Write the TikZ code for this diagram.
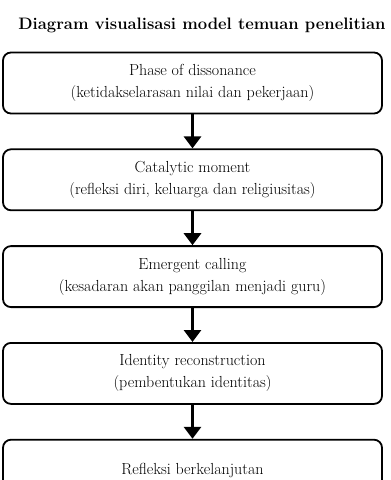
\documentclass[tikz,border=0pt]{standalone}
\usepackage{fontspec}
\usetikzlibrary{positioning,arrows.meta}

\tikzset{
  stage/.style={draw, line width=1.8pt, rounded corners=8pt, minimum width=379pt,
    minimum height=61pt, align=center, inner sep=0pt,
    font=\fontsize{16}{22}\selectfont},
  flow/.style={line width=3.2pt, -{Triangle[width=17pt,length=12pt]}}
}

\begin{document}
\begin{tikzpicture}[x=1pt,y=1pt, node distance=34pt]
        \useasboundingbox (0,0) rectangle (391,-480);
        \clip (0,0) rectangle (391,-480);
        \node[font=\fontsize{16.6}{20}\selectfont\bfseries] (title) at (202,-25) {Diagram visualisasi model temuan penelitian};
        \node[stage] (dissonance) at (192.5,-83) {Phase of dissonance\\(ketidakselarasan nilai dan pekerjaan)};
        \node[stage, below=of dissonance] (catalytic) {Catalytic moment\\(refleksi diri, keluarga dan religiusitas)};
        \node[stage, below=of catalytic] (calling) {Emergent calling\\(kesadaran akan panggilan menjadi guru)};
        \node[stage, below=of calling] (identity) {Identity reconstruction\\(pembentukan identitas)};
        \node[stage, below=of identity] (refleksi) {Refleksi berkelanjutan};
        \draw[flow] (dissonance) -- (catalytic);
        \draw[flow] (catalytic) -- (calling);
        \draw[flow] (calling) -- (identity);
        \draw[flow] (identity) -- (refleksi);
    \end{tikzpicture}
\end{document}
